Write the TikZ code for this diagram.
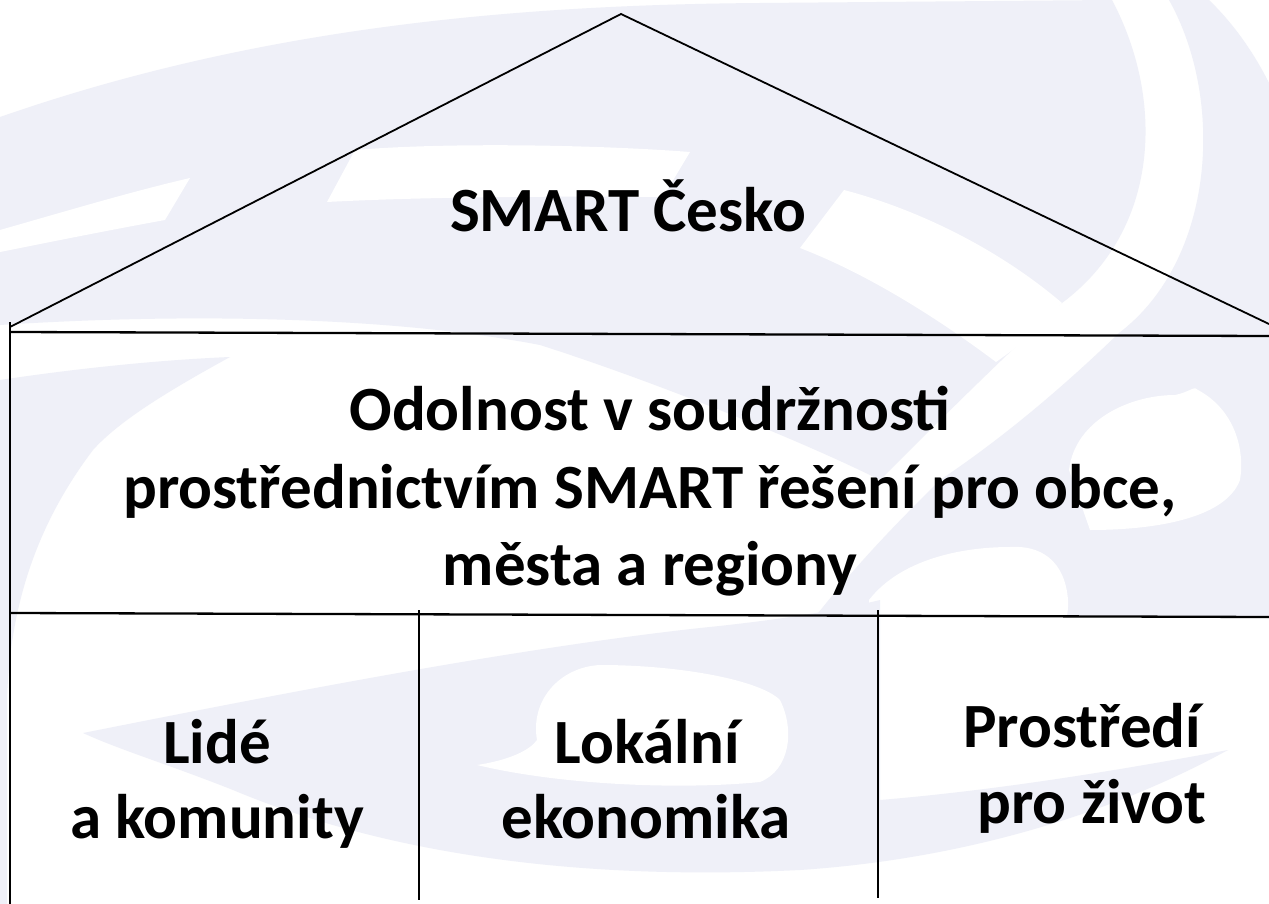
\documentclass[tikz,border=0pt]{standalone}
\usepackage{fontspec}
\setmainfont{Carlito}
\definecolor{wm}{RGB}{239,240,248}
\tikzset{
  wmfill/.style={fill=wm, draw=none},
  wfill/.style={fill=white, draw=none},
  roofline/.style={draw=black, line width=1.8pt, line join=miter},
  gridline/.style={draw=black, line width=2.3pt},
  divline/.style={draw=black, line width=1.8pt},
  label/.style={inner sep=0pt, anchor=base, font=\fontsize{63}{75}\selectfont\bfseries}
}
\begin{document}
\begin{tikzpicture}[x=1pt,y=-1pt]
\useasboundingbox (0,0) rectangle (1269,904);
% ---------- watermark ----------
\fill[white] (0,0) rectangle (1269,904);
\path[wmfill] (0,117) .. controls (250,30) and (500,5) .. (760,3) -- (1112,0)
  .. controls (1165,100) and (1160,230) .. (1062,303)
  .. controls (990,370) and (930,430) .. (880,480)
  .. controls (800,440) and (650,380) .. (540,345)
  .. controls (400,318) and (200,312) .. (0,325) -- cycle;
\path[wfill] (0,230) .. controls (70,210) and (130,192) .. (190,178) -- (165,220)
  .. controls (110,230) and (50,242) .. (0,252) -- cycle;
\path[wfill] (355,150) .. controls (450,142) and (600,145) .. (690,152) -- (663,197)
  .. controls (550,196) and (420,197) .. (327,202) -- cycle;
\path[wfill] (844,190) .. controls (920,210) and (1000,250) .. (1062,303)
  .. controls (1040,330) and (1020,345) .. (996,362)
  .. controls (940,320) and (870,275) .. (800,248) -- cycle;
\path[wmfill] (1169,0) .. controls (1225,100) and (1215,260) .. (1119,333)
  .. controls (1060,390) and (1000,440) .. (940,480)
  .. controls (900,520) and (860,560) .. (815,617) -- (1269,617) -- (1269,83)
  .. controls (1255,55) and (1235,25) .. (1209,0) -- cycle;
\path[wfill] (1069,470) .. controls (1075,420) and (1130,395) .. (1175,395)
  .. controls (1190,392) and (1195,385) .. (1198,390)
  .. controls (1235,410) and (1245,450) .. (1240,480)
  .. controls (1225,520) and (1150,530) .. (1090,530) -- cycle;
\path[wfill] (869,600) .. controls (900,560) and (960,547) .. (1010,547)
  .. controls (1040,545) and (1065,560) .. (1068,600)
  .. controls (1070,640) and (1040,660) .. (990,650)
  .. controls (950,640) and (900,630) .. (869,640) -- cycle;
\path[wmfill] (0,380) .. controls (80,368) and (160,360) .. (230,357)
  .. controls (170,390) and (120,420) .. (93,450)
  .. controls (40,520) and (10,600) .. (7,700) -- (7,904) -- (0,904) -- cycle;
\path[wmfill] (83,733) .. controls (250,700) and (500,650) .. (700,628)
  .. controls (780,620) and (840,610) .. (880,600) -- (880,800)
  .. controls (1000,790) and (1120,770) .. (1228,750)
  .. controls (1100,820) and (950,860) .. (800,870)
  .. controls (600,880) and (400,860) .. (233,790)
  .. controls (170,765) and (120,750) .. (83,733) -- cycle;
\path[wfill] (477,765) .. controls (510,760) and (530,750) .. (537,740)
  .. controls (530,700) and (560,667) .. (600,665)
  .. controls (680,665) and (760,680) .. (780,700)
  .. controls (795,730) and (790,770) .. (760,782)
  .. controls (680,790) and (560,785) .. (477,765) -- cycle;
% ---------- house ----------
\coordinate (apex) at (621,14);
\coordinate (roofL) at (10,327);
\coordinate (roofR) at (1269,324);
\coordinate (h1L) at (10,332);
\coordinate (h1R) at (1269,336);
\coordinate (h2L) at (10,613);
\coordinate (h2R) at (1269,617);
\coordinate (vTop) at (10,322);
\coordinate (vBot) at (10,904);
\coordinate (d1T) at (419,610);
\coordinate (d1B) at (419,900);
\coordinate (d2T) at (878,610);
\coordinate (d2B) at (878,898);
\draw[roofline] (roofL) -- (apex) -- (roofR);
\draw[gridline] (h1L) -- (h1R);
\draw[gridline] (h2L) -- (h2R);
\draw[divline] (vTop) -- (vBot);
\draw[divline] (d1T) -- (d1B);
\draw[divline] (d2T) -- (d2B);
% ---------- texts ----------
\node[label] (smart) at (628,232) {SMART Česko};
\node[label] (o1) at (650,430) {Odolnost v soudržnosti};
\node[label] (o2) at (650,508) {prostřednictvím SMART řešení pro obce,};
\node[label] (o3) at (650,585) {města a regiony};
\node[label] (l1) at (217,763) {Lidé};
\node[label] (l2) at (217,838) {a komunity};
\node[label] (k1) at (647,763) {Lokální};
\node[label] (k2) at (646,838) {ekonomika};
\node[label] (p1) at (1082,747) {Prostředí};
\node[label] (p2) at (1092,823) {pro život};
\end{tikzpicture}
\end{document}
